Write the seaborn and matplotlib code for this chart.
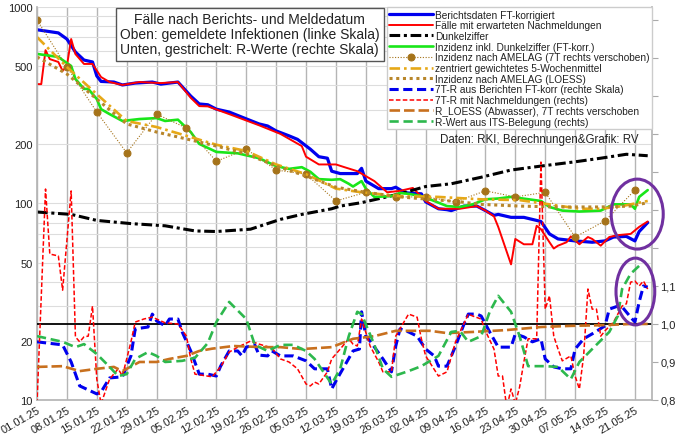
import numpy as np
import pandas as pd
import matplotlib
matplotlib.use("Agg")
import matplotlib.pyplot as plt
from matplotlib.patches import Ellipse
from matplotlib.ticker import LogLocator, NullFormatter
import seaborn as sns

# --- data (days since 01.01.2025) ---------------------------------------
# upper part, left log axis
blue_days = [0, 5, 7, 9, 11, 13, 14, 15, 18, 20, 23, 27, 29, 33, 36, 38, 40, 42, 45, 48,
             52, 54, 56, 59, 61, 64, 66, 68, 69, 71, 75, 76, 77, 80, 83, 84, 86, 87, 90, 91,
             94, 96, 97, 100, 103, 105, 107, 108, 111, 114, 118, 120, 122, 126, 130, 133, 135, 138, 140, 141,
             143]
blue_vals = [766, 738, 687, 590, 537, 525, 446, 418, 415, 401, 410, 415, 405, 415, 352, 321, 318, 302, 292, 275,
             254, 248, 234, 221, 212, 189, 173, 170, 146, 142, 142, 151, 130, 119, 119, 121, 114, 113, 112, 102,
             94, 93, 92, 97, 97, 92, 87, 88, 85, 85, 81, 70, 66, 64.5, 63.5, 64.5, 67.5, 68, 64.5, 72,
             80]

red_days = [0, 1, 2, 3, 5, 6, 7, 8, 9, 11, 13, 15, 17, 20, 24, 29, 33, 36, 38, 40,
            45, 52, 57, 62, 63, 66, 70, 72, 75, 79, 82, 85, 88, 91, 94, 99, 103, 105, 107, 108,
            111, 112, 114, 116, 117, 118, 120, 121, 122, 124, 125, 127, 129, 130, 132, 134, 136, 139, 141, 143]
red_vals = [405, 405, 603, 543, 525, 473, 500, 687, 576, 513, 513, 440, 415, 401, 415, 410, 415, 345, 313, 312,
            285, 250, 226, 196, 173, 158, 158, 153, 146, 130, 114, 116, 120, 103, 94, 94, 97, 92, 86, 76,
            49, 66, 62, 62, 77, 74, 63.5, 59, 61, 63.5, 68, 62, 67.5, 66, 61, 67.5, 69, 70, 76, 81]

dark_days = [0, 8, 14, 22, 30, 37, 42, 50, 57, 62, 69, 71, 76, 85, 91, 97, 104, 111, 118, 126, 132, 138, 143]
dark_vals = [90.5, 88, 82, 79, 77, 72.5, 72, 74, 83, 88, 94, 97, 101, 112, 122, 126, 136, 148, 155, 163, 170, 178, 175]

green_days = [0, 5, 6, 8, 9, 11, 12, 14, 15, 17, 20, 24, 28, 30, 33, 36, 38, 42, 47, 52,
              56, 59, 62, 64, 66, 69, 71, 73, 74, 76, 77, 79, 83, 85, 87, 90, 93, 96, 99, 102,
              105, 108, 111, 118, 120, 123, 127, 132, 135, 139, 140, 141, 143]
green_vals = [577, 557, 537, 501, 430, 383, 383, 340, 302, 285, 263, 269, 272, 263, 267, 231, 201, 183, 180, 170,
              155, 150, 153, 145, 133, 132, 133, 126, 122, 130, 119, 108, 109, 113, 112, 109, 103, 97, 96, 99,
              105, 106, 108, 103, 96, 92, 91, 92, 99, 99, 94, 108, 117]

amelag_days = [0, 7, 14, 21, 28, 35, 42, 49, 56, 63, 70, 77, 84, 91, 98, 105, 112, 119, 126, 133, 140]
amelag_vals = [858, 495, 292, 181, 285, 242, 164, 189, 148, 141, 103, 114, 108, 108, 102, 116, 108, 114, 67.5, 81.5, 117]

mean5_days = [0, 7, 14, 21, 28, 35, 42, 49, 56, 63, 70, 76, 85, 94, 104, 113, 120, 127, 132, 137, 141, 143]
mean5_vals = [703, 495, 360, 263, 245, 221, 199, 185, 158, 141, 119, 114, 109, 108, 105, 104, 99, 94, 94, 97, 101, 103]

loess_days = [0, 7, 14, 21, 28, 35, 42, 49, 56, 63, 70, 77, 85, 99, 104, 113, 122, 132, 139, 143]
loess_vals = [557, 456, 340, 254, 231, 213, 196, 179, 155, 138, 121, 114, 108, 102, 99, 97, 96, 96, 97, 101]

# lower part, right axis (R values)
r7_days = [0, 6, 8, 10, 14, 15, 17, 20, 22, 23, 26, 27, 28, 30, 31, 33, 34, 36, 38, 40,
           42, 43, 45, 47, 48, 49, 51, 52, 54, 55, 57, 60, 63, 65, 68, 69, 70, 74, 75.5, 76,
           77, 78, 81, 83, 84, 85, 87, 89, 91, 93, 94, 96, 98, 100, 101, 103, 104, 106, 108, 111,
           112, 114, 116, 118, 119, 121, 123, 125, 126, 128, 130, 133, 134, 136, 137, 139, 140, 141, 142, 143]
r7_vals = [0.953, 0.945, 0.900, 0.837, 0.816, 0.821, 0.858, 0.861, 0.916, 0.987, 0.992, 1.026, 1.008, 0.995, 1.013, 1.013, 0.979, 0.929, 0.868, 0.868,
           0.863, 0.889, 0.929, 0.929, 0.916, 0.939, 0.945, 0.918, 0.916, 0.929, 0.916, 0.916, 0.903, 0.882, 0.882, 0.829, 0.850, 0.929, 0.934, 1.032,
           0.968, 0.955, 0.908, 0.874, 0.942, 0.987, 0.979, 0.968, 0.934, 0.916, 0.889, 0.889, 0.942, 1.000, 1.026, 1.026, 1.021, 0.979, 0.939, 0.939,
           0.974, 0.966, 0.953, 0.961, 0.908, 0.887, 0.882, 0.882, 0.934, 0.961, 0.974, 0.995, 1.039, 1.047, 1.045, 1.018, 1.005, 1.058, 1.100, 1.097]

r7n_days = [0, 2, 3, 5, 6, 8, 9, 10, 11, 12, 13, 14, 15, 17, 19, 20, 22, 23, 25, 27,
            30, 33, 35, 36, 37, 41, 43, 45, 47, 50, 52, 55, 57, 59, 61, 63, 64, 65, 66, 68,
            69, 71, 73, 74, 75, 76, 78, 80, 81, 83, 84, 87, 89, 90, 91, 94, 96, 98, 101, 102,
            104, 105, 107, 108, 109, 110, 111, 112, 113, 114, 115, 117, 118, 119, 120, 121, 122, 123, 125, 126,
            127, 128, 129, 130, 131, 132, 133, 135, 137, 138, 139, 140, 141, 142, 143]
r7n_vals = [0.790, 1.355, 1.184, 1.179, 1.089, 1.350, 0.966, 0.953, 0.966, 0.968, 1.047, 0.855, 0.790, 0.855, 0.882, 0.863, 0.953, 1.005, 1.013, 1.018,
            1.003, 1.000, 0.968, 0.908, 0.868, 0.861, 0.887, 0.926, 0.939, 0.955, 0.947, 0.937, 0.908, 0.900, 0.882, 0.842, 0.837, 0.847, 0.842, 0.874,
            0.908, 0.934, 0.961, 0.947, 0.942, 1.013, 0.942, 0.900, 0.874, 0.874, 0.968, 1.026, 1.018, 0.961, 0.916, 0.863, 0.874, 0.953, 1.026, 1.021,
            1.013, 0.982, 0.934, 0.863, 0.863, 0.780, 0.829, 0.790, 0.834, 0.900, 0.961, 0.961, 1.426, 1.039, 1.074, 0.968, 0.934, 0.903, 0.916, 0.863,
            0.829, 0.916, 1.092, 1.039, 1.039, 0.968, 0.982, 1.005, 1.047, 1.053, 1.110, 1.113, 1.100, 1.113, 1.092]

rloess_days = [0, 6, 10, 14, 18, 20, 24, 28, 31, 35, 38, 41, 46, 53, 57, 62, 69, 74, 79, 84,
               92, 96, 102, 110, 118, 125, 133, 139, 143]
rloess_vals = [0.887, 0.889, 0.876, 0.882, 0.887, 0.876, 0.900, 0.900, 0.908, 0.916, 0.929, 0.935, 0.942, 0.939, 0.939, 0.934, 0.939, 0.961, 0.968, 0.982,
               0.982, 0.976, 0.979, 0.984, 0.992, 0.995, 0.997, 1.000, 1.000]

rits_days = [0, 6, 9, 11, 14, 17, 19, 21, 23, 26, 28, 30, 34, 37, 40, 42, 45, 49, 51, 54,
             57, 60, 63, 65, 69, 71, 73, 75, 76, 79, 81, 83, 87, 90, 94, 97, 99, 101, 104, 106,
             108, 111, 113, 115, 119, 122, 125, 127, 130, 134, 136, 137, 139, 141, 142]
rits_vals = [0.968, 0.953, 0.939, 0.947, 0.921, 0.887, 0.863, 0.868, 0.908, 0.926, 0.916, 0.900, 0.903, 0.911, 0.950, 1.005, 1.058, 1.013, 0.945, 0.929,
             0.945, 0.945, 0.929, 0.908, 0.842, 0.882, 0.968, 1.032, 1.026, 0.945, 0.882, 0.861, 0.876, 0.889, 0.916, 0.979, 0.982, 0.953, 0.968, 1.032,
             1.074, 1.032, 0.968, 0.889, 0.889, 0.887, 0.855, 0.900, 0.934, 0.979, 1.021, 1.092, 1.132, 1.153, 1.150]

tick_days = list(range(0, 141, 7))
tick_labels = pd.date_range("2025-01-01", periods=len(tick_days), freq="7D").strftime("%d.%m.%y").tolist()
left_ticks = [10, 20, 50, 100, 200, 500, 1000]
right_ticks = [0.8, 0.9, 1.0, 1.1, 1.2, 1.3, 1.4, 1.5, 1.6, 1.7, 1.8]
right_labels = ["0,8", "0,9", "1,0", "1,1", "", "", "", "", "", "", ""]

title_text = ("Fälle nach Berichts- und Meldedatum\n"
              "Oben: gemeldete Infektionen (linke Skala)\n"
              "Unten, gestrichelt: R-Werte (rechte Skala)")
source_text = "Daten: RKI, Berechnungen&Grafik: RV"

# --- style ---------------------------------------------------------------
sns.set_theme(style="whitegrid")
plt.rcParams["font.family"] = ["Liberation Sans", "DejaVu Sans"]
plt.rcParams["text.color"] = "#222222"

fig = plt.figure(figsize=(6.8, 4.39), dpi=100)
ax = fig.add_axes([0.0544, 0.0866, 0.9044, 0.8952])
ax.set_facecolor("white")
ax2 = ax.twinx()


def draw(axis, x, y, **kw):
    sns.lineplot(x=x, y=y, ax=axis, **kw)


# upper series
draw(ax, blue_days, blue_vals, color="#0000EE", lw=2.3, label="Berichtsdaten FT-korrigiert")
draw(ax, red_days, red_vals, color="#FF0000", lw=1.4, label="Fälle mit erwarteten Nachmeldungen")
draw(ax, dark_days, dark_vals, color="black", lw=2.2, linestyle=(0, (3.5, 1.2, 1, 1.2)), label="Dunkelziffer")
draw(ax, green_days, green_vals, color="#19E619", lw=1.9, label="Inzidenz inkl. Dunkelziffer (FT-korr.)")
draw(ax, amelag_days, amelag_vals, color="#A5731A", lw=0.8, linestyle=(0, (1, 1.5)),
     marker="o", markersize=5, markeredgecolor="#A5731A", markerfacecolor="#A5731A",
     label="Inzidenz nach AMELAG (7T rechts verschoben)")
draw(ax, mean5_days, mean5_vals, color="#E6A817", lw=1.9, linestyle=(0, (4, 1.5, 1, 1.5)),
     label="zentriert gewichtetes 5-Wochenmittel")
draw(ax, loess_days, loess_vals, color="#B8862B", lw=2.2, linestyle=(0, (1, 1.2)),
     label="Inzidenz nach AMELAG (LOESS)")

# lower series (R)
ax2.axhline(1.0, color="black", lw=1.3, zorder=1)
draw(ax2, r7_days, r7_vals, color="#0000EE", lw=2.2, linestyle=(0, (3, 1.5)),
     label="7T-R aus Berichten FT-korr (rechte Skala)")
draw(ax2, r7n_days, r7n_vals, color="#FF0000", lw=1.1, linestyle=(0, (3, 1.5)),
     label="7T-R mit Nachmeldungen (rechts)")
draw(ax2, rloess_days, rloess_vals, color="#C8701E", lw=1.9, linestyle=(0, (4, 1.5)),
     label="R_LOESS (Abwasser), 7T rechts verschoben")
draw(ax2, rits_days, rits_vals, color="#2DB84D", lw=1.9, linestyle=(0, (3.5, 1.8)),
     label="R-Wert aus ITS-Belegung (rechts)")

# --- axes ----------------------------------------------------------------
ax.set_xlim(0, 144)
ax.set_yscale("log")
ax.set_ylim(10, 1000)
ax.set_yticks(left_ticks)
ax.set_yticklabels([str(t) for t in left_ticks])
ax.yaxis.set_minor_locator(LogLocator(base=10, subs=range(2, 10)))
ax.yaxis.set_minor_formatter(NullFormatter())
ax.set_xticks(tick_days)
ax.set_xticklabels(tick_labels, rotation=30, ha="right", rotation_mode="anchor")
ax.set_xlabel("")
ax.set_ylabel("")

ax.grid(False)
ax.grid(True, axis="x", which="major", color="#b5b5b5", lw=1.0)
ax.grid(True, axis="y", which="both", color="#dddddd", lw=0.8)
ax.tick_params(axis="y", which="both", length=0, labelsize=8, pad=3, labelcolor="#222222")
ax.tick_params(axis="x", length=0, labelsize=8, pad=3, labelcolor="#222222")
for side in ["top", "right"]:
    ax.spines[side].set_visible(False)
for side in ["left", "bottom"]:
    ax.spines[side].set_color("#b5b5b5")

ax2.set_ylim(0.8, 1.834)
ax2.set_yticks(right_ticks)
ax2.set_yticklabels(right_labels)
ax2.grid(False)
ax2.tick_params(axis="y", length=4, width=0.8, color="#aaaaaa", labelsize=8, pad=2, labelcolor="#222222")
ax2.set_ylabel("")
for side in ["top", "left", "bottom"]:
    ax2.spines[side].set_visible(False)
ax2.spines["right"].set_color("#b5b5b5")

# --- legend and annotations ----------------------------------------------
if ax.get_legend() is not None:
    ax.get_legend().remove()
h1, l1 = ax.get_legend_handles_labels()
h2, l2 = ax2.get_legend_handles_labels()
h2 = [h for h, l in zip(h2, l2) if not l.startswith("_")]
l2 = [l for l in l2 if not l.startswith("_")]
leg = ax2.legend(h1 + h2, l1 + l2, loc="upper right", bbox_to_anchor=(1.0, 1.0),
                 fontsize=7.3, handlelength=4.3, handletextpad=0.2, labelspacing=0.07,
                 borderpad=0.25, borderaxespad=0, frameon=True, fancybox=False,
                 edgecolor="#cccccc", framealpha=1)
leg.set_zorder(20)

ax2.text(0.346, 0.931, title_text, transform=ax2.transAxes, ha="center", va="center",
         fontsize=10, linespacing=1.12, zorder=21,
         bbox=dict(boxstyle="square,pad=0.3", fc="white", ec="#555555", lw=1))
ax2.text(0.655, 0.664, source_text, transform=ax2.transAxes, ha="left", va="center",
         fontsize=8.3, zorder=21)

for cx, cy, w, h in [(0.976, 0.473, 0.0846, 0.178), (0.973, 0.276, 0.063, 0.170)]:
    ax2.add_patch(Ellipse((cx, cy), w, h, transform=ax2.transAxes, fill=False,
                          ec="#7030A0", lw=2.2, clip_on=False, zorder=15))

fig.savefig("out.png", dpi=100)
